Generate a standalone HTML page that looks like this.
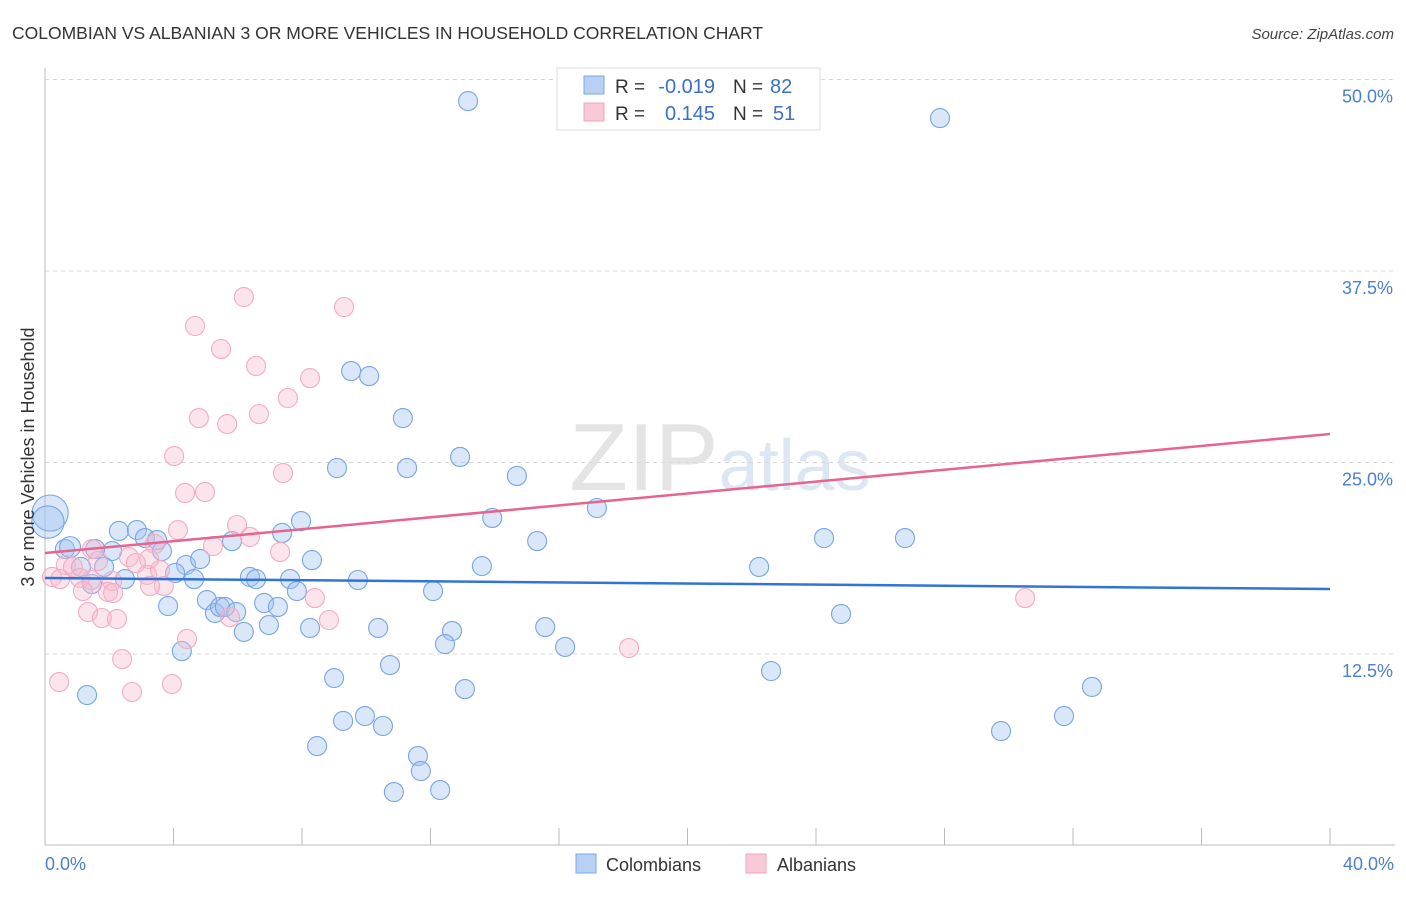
<!DOCTYPE html>
<html><head><meta charset="utf-8"><style>
body{margin:0;background:#fff;font-family:"Liberation Sans",sans-serif;}
svg text{font-family:"Liberation Sans",sans-serif;}
</style></head><body>
<svg id="chart" width="1406" height="892" xmlns="http://www.w3.org/2000/svg">
<text x="12" y="39" font-size="17.5" fill="#333">COLOMBIAN VS ALBANIAN 3 OR MORE VEHICLES IN HOUSEHOLD CORRELATION CHART</text>
<text x="1394" y="39" font-size="15" fill="#444" font-style="italic" text-anchor="end">Source: ZipAtlas.com</text>
<text x="720" y="490" font-size="96" fill="#e4e4e4" text-anchor="middle" font-family="Liberation Serif"><tspan>ZIP</tspan><tspan fill="#dde6f3" font-family="Liberation Sans" font-size="72">atlas</tspan></text>
<g id="grid"></g>
<g id="axes"></g>
<g id="pts"></g>
<g id="trend"></g>
<text transform="translate(34,457) rotate(-90)" font-size="18" fill="#333" text-anchor="middle">3 or more Vehicles in Household</text>
<text x="45" y="870" font-size="18" fill="#4a7fd4">0.0%</text>
<text x="1394" y="870" font-size="18" fill="#4a7fd4" text-anchor="end">40.0%</text>
<g>
<rect x="557" y="68" width="263" height="62" fill="#fff" stroke="#ddd"/>
<rect x="584" y="76" width="20" height="18" fill="#b7d0f3" stroke="#7ea7e4"/>
<rect x="584" y="103" width="20" height="18" fill="#f9c9d8" stroke="#f0a3bb"/>
<text x="615" y="93" font-size="19" fill="#333">R =</text>
<text x="715" y="93" font-size="20" fill="#3a70cc" text-anchor="end">-0.019</text>
<text x="733" y="93" font-size="19" fill="#333">N =</text>
<text x="770" y="93" font-size="20" fill="#3a70cc">82</text>
<text x="615" y="120" font-size="19" fill="#333">R =</text>
<text x="715" y="120" font-size="20" fill="#3a70cc" text-anchor="end">0.145</text>
<text x="733" y="120" font-size="19" fill="#333">N =</text>
<text x="773" y="120" font-size="20" fill="#3a70cc">51</text>
</g>
<g>
<rect x="576" y="854" width="20" height="19" fill="#b7d0f3" stroke="#7ea7e4"/>
<text x="606" y="871" font-size="18" fill="#333">Colombians</text>
<rect x="746" y="854" width="20" height="19" fill="#f9c9d8" stroke="#f0a3bb"/>
<text x="777" y="871" font-size="18" fill="#333">Albanians</text>
</g>
</svg>
<script>
const yTicks=[12.5,25,37.5,50];
const yTickLabels=["12.5%","25.0%","37.5%","50.0%"];
const xTicks=[0,4,8,12,16,20,24,28,32,36,40];
const colX=[13.17,27.86,9.53,10.09,11.14,9.09,11.27,12.92,14.69,17.18,13.92,15.32,24.25,26.77,22.23,13.60,7.97,7.38,2.30,2.86,3.11,3.49,3.64,5.82,2.09,1.56,0.62,1.84,1.12,1.46,2.49,4.39,4.83,4.05,4.64,6.38,6.57,7.63,8.31,9.74,12.08,7.84,3.83,5.04,5.29,5.45,5.60,5.95,6.82,7.25,6.97,6.19,8.25,10.37,12.67,15.57,12.45,16.19,24.78,4.26,10.74,22.60,9.00,13.07,1.31,32.59,31.72,29.76,8.47,9.28,9.96,10.52,11.61,11.70,10.86,12.30,0.78,0.16,0.09];
const colY=[48.59,47.48,30.97,30.64,27.90,24.64,24.64,25.36,24.12,22.03,21.38,19.87,20.07,20.07,18.18,18.24,21.18,20.40,20.53,20.59,20.07,19.94,19.22,19.87,19.22,19.35,19.35,18.18,18.18,17.07,17.39,18.31,18.70,17.79,17.39,17.53,17.39,17.39,18.63,17.33,16.61,16.61,15.63,16.02,15.18,15.57,15.57,15.24,15.83,15.57,14.39,13.94,14.20,14.20,14.00,14.26,13.15,12.96,15.11,12.69,11.78,11.39,10.93,10.21,9.82,10.35,8.45,7.47,6.49,8.13,8.45,7.80,5.84,4.86,3.49,3.62,19.48,21.70,21.11];
const colSize=[1,1,1,1,1,1,1,1,1,1,1,1,1,1,1,1,1,1,1,1,1,1,1,1,1,1,1,1,1,1,1,1,1,1,1,1,1,1,1,1,1,1,1,1,1,1,1,1,1,1,1,1,1,1,1,1,1,1,1,1,1,1,1,1,1,1,1,1,1,1,1,1,1,1,1,1,1.1,1.9,1.7];
const albX=[6.19,9.31,4.67,5.48,6.57,8.25,7.56,4.79,5.67,6.66,4.02,7.41,4.36,4.98,4.14,5.98,6.38,5.23,3.42,7.32,2.61,3.24,1.46,1.65,0.65,0.87,0.22,0.47,1.09,1.43,2.09,2.83,3.18,3.58,3.70,3.27,1.18,1.96,2.12,1.34,1.77,2.24,5.76,8.84,8.40,4.42,2.40,0.44,2.71,3.95,30.51,18.18];
const albY=[35.80,35.15,33.91,32.41,31.30,30.51,29.21,27.90,27.51,28.16,25.42,24.31,23.01,23.07,20.59,20.92,20.14,19.55,19.68,19.16,18.83,18.70,19.35,18.57,18.31,18.18,17.53,17.39,17.46,17.33,17.26,18.44,17.66,17.98,16.94,16.94,16.61,16.55,16.48,15.24,14.85,14.78,14.91,14.72,16.15,13.48,12.17,10.67,10.02,10.54,16.15,12.89];
const colTrend=[17.46,16.74];
const albTrend=[19.09,26.86];
const NS="http://www.w3.org/2000/svg";
const X0=45,X1=1330,YB=845.5,YPX=191.5/12.5;
function sx(v){return X0+(X1-X0)*v/40;}
function sy(v){return YB-v*YPX;}
function mk(t,a,p){const e=document.createElementNS(NS,t);for(const k in a)e.setAttribute(k,a[k]);p.appendChild(e);return e;}
const grid=document.getElementById('grid'),axes=document.getElementById('axes'),pts=document.getElementById('pts'),trend=document.getElementById('trend');
yTicks.forEach((t,i)=>{
 const l=mk('line',{x1:45,x2:1395,y1:sy(t),y2:sy(t),stroke:'#d8d8d8','stroke-dasharray':'4,4'},grid);
 
 
 const tx=mk('text',{x:1393,y:sy(t)+23,'font-size':18,fill:'#4a7fd4','text-anchor':'end'},grid);
 tx.textContent=yTickLabels[i];
 
 
});
const ax=mk('line',{x1:45,x2:1395,y1:845,y2:845,stroke:'#bbb'},axes);


const ay=mk('line',{x1:45,x2:45,y1:68,y2:845,stroke:'#bbb'},axes);


xTicks.forEach(t=>{
 const l=mk('line',{x1:sx(t),x2:sx(t),y1:828,y2:845,stroke:'#bbb'},axes);
 
 
});
colX.forEach((v,i)=>{
 const c=mk('circle',{cx:sx(v),cy:sy(colY[i]),r:9.5*colSize[i],fill:'rgba(160,195,240,0.4)',stroke:'#78a5e3','stroke-width':1.1},pts);
 
 
});
albX.forEach((v,i)=>{
 const c=mk('circle',{cx:sx(v),cy:sy(albY[i]),r:9.5,fill:'rgba(248,185,205,0.38)',stroke:'#f2abc1','stroke-width':1.1},pts);
 
 
});
const t1=mk('line',{x1:sx(0),x2:sx(40),y1:sy(colTrend[0]),y2:sy(colTrend[1]),stroke:'#2f74d8','stroke-width':2.5},trend);


const t2=mk('line',{x1:sx(0),x2:sx(40),y1:sy(albTrend[0]),y2:sy(albTrend[1]),stroke:'#e8648e','stroke-width':2.5},trend);


</script>
</body></html>
